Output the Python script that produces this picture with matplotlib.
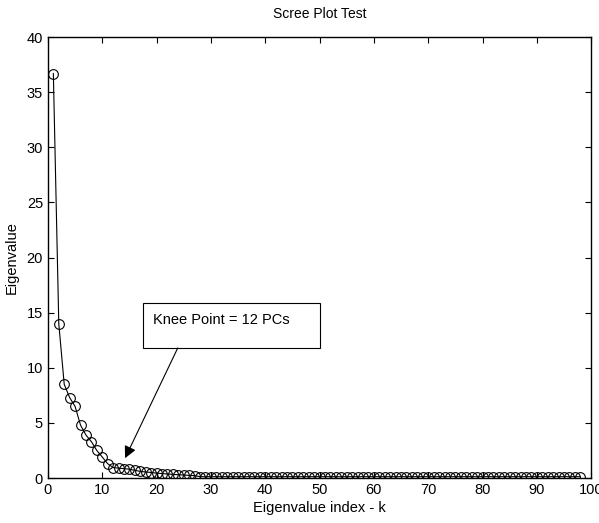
import numpy as np
from matplotlib import pyplot as plt
from matplotlib.patches import Rectangle

plt.rcParams['font.family'] = ['Liberation Sans', 'DejaVu Sans']
plt.rcParams['font.size'] = 10

# eigenvalues, index k = 1..98
eigenvalues = [36.7, 14.0, 8.5, 7.3, 6.5, 4.8, 3.9, 3.3, 2.5, 1.9,
               1.3, 0.95, 0.9, 0.85, 0.8, 0.7, 0.6, 0.55, 0.5, 0.45,
               0.4, 0.37, 0.33, 0.3, 0.27, 0.24, 0.22] + [0.12] * 71
k = np.arange(1, len(eigenvalues) + 1)

knee_text = 'Knee Point = 12 PCs'

fig = plt.figure(figsize=(5.99, 5.23), dpi=100)
ax = fig.add_axes([0.080, 0.086, 0.907, 0.843])

ax.plot(k, eigenvalues, color='black', linewidth=0.8, marker='o',
        markersize=7, markerfacecolor='none', markeredgecolor='black',
        markeredgewidth=0.8)

ax.set_xlim(0, 100)
ax.set_ylim(0, 40)
ax.set_xticks(np.arange(0, 101, 10))
ax.set_yticks(np.arange(0, 41, 5))
ax.tick_params(direction='in', top=True, right=True, length=4, width=0.8,
               labelsize=10.5)
for s in ax.spines.values():
    s.set_linewidth(1.0)

ax.set_title('Scree Plot Test', fontsize=10, pad=14)
ax.set_xlabel('Eigenvalue index - k', labelpad=3, fontsize=10.5)
ax.set_ylabel('Eigenvalue', labelpad=6, fontsize=10.5)

# text box + arrow pointing at the knee
ax.add_patch(Rectangle((17.5, 11.8), 32.6, 4.1, facecolor='white',
                       edgecolor='black', linewidth=0.8, zorder=3))
ax.text(19.3, 14.3, knee_text, ha='left', va='center', fontsize=10.5,
        zorder=4)
ax.annotate('', xy=(14.2, 1.8), xytext=(23.9, 11.8),
            arrowprops=dict(arrowstyle='-|>', color='black', lw=0.8,
                            mutation_scale=18, shrinkA=0, shrinkB=0))

fig.savefig('out.png', dpi=100)
